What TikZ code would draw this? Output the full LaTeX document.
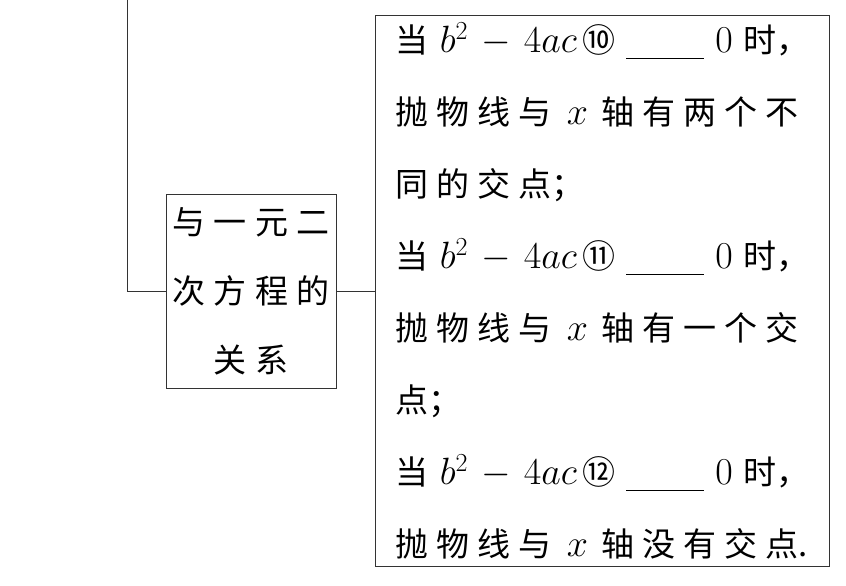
\RequirePackage{fix-cm}
\documentclass[tikz,border=0pt]{standalone}
\usepackage{fontspec}
\setmainfont{Noto Sans CJK SC}
\usepackage{tikz}
\usetikzlibrary{positioning}
\XeTeXlinebreaklocale "zh"
\XeTeXlinebreakskip=8pt plus 1pt
\DeclareMathSizes{33}{38}{26}{20}

\newcommand{\blankline}{\rule[-6pt]{78pt}{1pt}}
\newcommand{\disc}{$b^2\mskip4mu-\mskip4mu4ac$}
\newcommand{\xvar}{\hspace{15pt}$x$\hspace{14pt}}

\begin{document}
\begin{tikzpicture}[
    node distance=1.4cm and 39pt,
    box1/.style={rectangle, draw=black!80, line width=0.8pt, align=center, text width=170pt, minimum height=194pt, inner sep=0pt, font=\fontsize{33}{69}\selectfont},
    box2/.style={rectangle, draw=black!80, line width=0.8pt, align=left, text width=414pt, minimum height=551pt, minimum width=454pt, inner sep=0pt, font=\fontsize{33}{72}\selectfont},
    link/.style={draw=black!80, line width=0.8pt}
]
    \useasboundingbox (0,0) rectangle (846pt,-586pt);

    \node [box1] (n1) at (251pt,-291pt) {与一元二\\次方程的\\关系};
    \node [box2, right=of n1] (n2) {当 \disc\,⑩ \blankline\ $0$ 时，\\
        抛物线与\xvar 轴有两个不\\
        同的交点；\\
        当 \disc\,⑪ \blankline\ $0$ 时，\\
        抛物线与\xvar 轴有一个交\\
        点；\\
        当 \disc\,⑫ \blankline\ $0$ 时，\\
        抛物线与\xvar 轴没有交点.};

    \coordinate (up) at (127pt,0);
    \draw [link] (n1.west) -| (up);
    \draw [link] (n1) -- (n2);
\end{tikzpicture}
\end{document}
